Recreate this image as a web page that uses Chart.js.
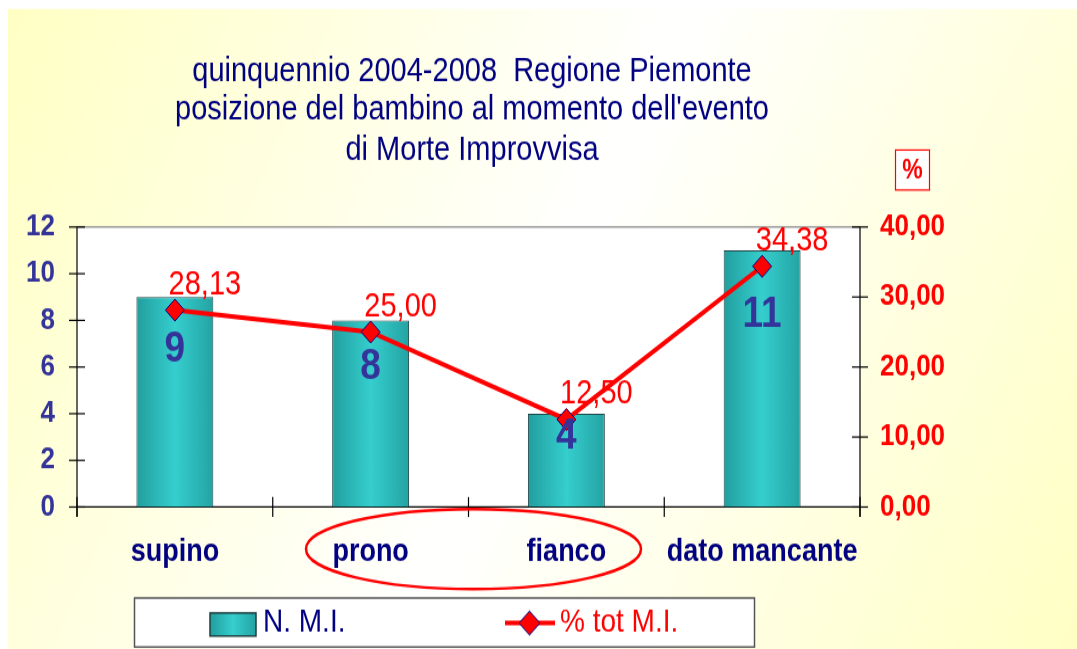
<!DOCTYPE html>
<html><head><meta charset="utf-8">
<script src="https://cdn.jsdelivr.net/npm/chart.js@4.4.1/dist/chart.umd.min.js"></script>
<style>
html,body{margin:0;padding:0;background:#fff;overflow:hidden;width:1077px;height:649px;}
#wrap{width:1077px;height:560px;transform:scaleY(1.158929);transform-origin:0 0;}
canvas{display:block;}
</style></head><body>
<div id="wrap"><canvas id="c" width="1077" height="560" style="width:1077px;height:560px"></canvas></div>
<script>
// ---- data ----
const categories = ['supino', 'prono', 'fianco', 'dato mancante'];
const countValues = [9, 8, 4, 11];
const percentValues = [28.13, 25.00, 12.50, 34.38];
const leftTickLabels = ['0', '2', '4', '6', '8', '10', '12'];
const rightTickLabels = ['0,00', '10,00', '20,00', '30,00', '40,00'];
const titleLines = ['quinquennio 2004-2008  Regione Piemonte', "posizione del bambino al momento dell'evento", 'di Morte Improvvisa'];
const seriesNames = ['N. M.I.', '% tot M.I.'];
const unitLabel = '%';

// ---- helpers ----
const S = 649 / 560;            // vertical stretch of the reference
const Y = v => v / S;           // reference y -> canvas y
const FONT = '"Liberation Sans", Arial, Helvetica, sans-serif';
const BAR_PCT = 0.393;

function tealGradient(c, x0, x1) {
  const g = c.createLinearGradient(x0, 0, x1, 0);
  g.addColorStop(0, '#229e9e');
  g.addColorStop(0.5, '#36cece');
  g.addColorStop(1, '#24a3a3');
  return g;
}
function barColor(ctx) {
  const chart = ctx.chart, xs = chart.scales.x;
  if (!xs || ctx.dataIndex === undefined || !chart.chartArea) return '#33CCCC';
  const cx = xs.getPixelForValue(ctx.dataIndex);
  const w = (xs.width / categories.length) * BAR_PCT;
  return tealGradient(chart.ctx, cx - w / 2, cx + w / 2);
}
function seg(c, x0, y0, x1, y1) { c.beginPath(); c.moveTo(x0, y0); c.lineTo(x1, y1); c.stroke(); }

const deco = {
  id: 'deco',
  beforeDraw(chart) {
    const c = chart.ctx, a = chart.chartArea;
    c.save();
    c.fillStyle = '#fff'; c.fillRect(0, 0, 1077, 560);
    const g = c.createLinearGradient(8, Y(9), 1077, 560);
    g.addColorStop(0, '#FFFFC4');
    g.addColorStop(0.5, '#FFFFFF');
    g.addColorStop(1, '#FFFFC4');
    c.fillStyle = g; c.fillRect(8, Y(9), 1077 - 8, 560 - Y(9));
    c.fillStyle = '#fff'; c.fillRect(a.left, a.top, a.right - a.left, a.bottom - a.top);
    c.restore();
  },
  beforeDatasetsDraw(chart) {
    const c = chart.ctx, a = chart.chartArea, ys = chart.scales.y, y1 = chart.scales.y1;
    c.save();
    c.lineWidth = 1.2;
    c.strokeStyle = '#8a8a8a'; seg(c, a.left, a.top, a.right, a.top);
    c.strokeStyle = '#000';
    seg(c, a.left, a.top, a.left, Y(517));
    seg(c, a.right, a.top, a.right, Y(517));
    seg(c, a.left, a.bottom, a.right, a.bottom);
    ys.ticks.forEach(t => { const p = ys.getPixelForValue(t.value); seg(c, a.left - 8, p, a.left + 8, p); });
    y1.ticks.forEach(t => { const p = y1.getPixelForValue(t.value); seg(c, a.right - 8, p, a.right + 8, p); });
    const n = categories.length;
    for (let i = 0; i <= n; i++) { const px = a.left + i * (a.right - a.left) / n; seg(c, px, Y(497), px, Y(517)); }
    c.restore();
  },
  afterDatasetsDraw(chart) {
    const c = chart.ctx, ys = chart.scales.y;
    c.save();
    c.textAlign = 'center'; c.textBaseline = 'middle';
    // bar value labels
    c.fillStyle = '#333399'; c.font = 'bold 37px ' + FONT;
    chart.getDatasetMeta(0).data.forEach((el, i) => {
      c.fillText(String(countValues[i]), el.x, ys.getPixelForValue(countValues[i] * 0.75));
    });
    // line value labels
    c.fillStyle = '#FF0000'; c.font = '29px ' + FONT;
    chart.getDatasetMeta(1).data.forEach((el, i) => {
      c.fillText(percentValues[i].toFixed(2).replace('.', ','), el.x + 30, el.y - Y(25));
    });
    c.restore();
  },
  afterDraw(chart) {
    const c = chart.ctx;
    c.save();
    // title
    c.fillStyle = '#000080'; c.font = '29px ' + FONT; c.textAlign = 'center'; c.textBaseline = 'middle';
    const ty = [72, 110, 151];
    titleLines.forEach((t, i) => c.fillText(t, 472, Y(ty[i])));
    // % box
    c.fillStyle = '#fff'; c.fillRect(895.5, Y(150), 34, Y(190) - Y(150));
    c.strokeStyle = '#FF0000'; c.lineWidth = 1.2; c.strokeRect(895.5, Y(150), 34, Y(190) - Y(150));
    c.fillStyle = '#FF0000'; c.font = 'bold 23px ' + FONT; c.fillText(unitLabel, 912.5, Y(171));
    // ellipse
    c.beginPath(); c.ellipse(473.5, Y(549), 167.5, 40 / S, 0, 0, Math.PI * 2);
    c.strokeStyle = '#FF0000'; c.lineWidth = 2.5; c.stroke();
    // legend box
    const top = Y(598), bot = Y(647);
    c.fillStyle = '#fff'; c.fillRect(134.5, top, 620, bot - top);
    c.strokeStyle = '#555'; c.lineWidth = 1.5; c.strokeRect(134.5, top, 620, bot - top);
    const ly = Y(623);
    c.fillStyle = tealGradient(c, 210, 256); c.fillRect(210, Y(613), 46, Y(636) - Y(613));
    c.strokeStyle = '#1f3f3f'; c.lineWidth = 1.5; c.strokeRect(210, Y(613), 46, Y(636) - Y(613));
    c.textAlign = 'left'; c.font = '28px ' + FONT;
    c.fillStyle = '#000080'; c.fillText(seriesNames[0], 263, ly);
    c.strokeStyle = '#FF0000'; c.lineWidth = 4; seg(c, 505, ly, 555, ly);
    const dh = 12 / S;
    c.beginPath(); c.moveTo(529.5 - 10.5, ly); c.lineTo(529.5, ly - dh); c.lineTo(529.5 + 10.5, ly); c.lineTo(529.5, ly + dh); c.closePath();
    c.fillStyle = '#FF0000'; c.fill(); c.strokeStyle = '#000080'; c.lineWidth = 1; c.stroke();
    c.fillStyle = '#FF0000'; c.fillText(seriesNames[1], 560, ly);
    c.restore();
  }
};

const noGrid = { display: false, drawTicks: false };
new Chart(document.getElementById('c'), {
  data: {
    labels: categories,
    datasets: [
      { type: 'bar', label: seriesNames[0], data: countValues, yAxisID: 'y', order: 1,
        backgroundColor: barColor, borderColor: '#1f4545', borderWidth: 1,
        barPercentage: BAR_PCT, categoryPercentage: 1 },
      { type: 'line', label: seriesNames[1], data: percentValues, yAxisID: 'y1', order: 0,
        borderColor: '#FF0000', borderWidth: 4, tension: 0, fill: false,
        pointStyle: 'rectRot', pointRadius: 9.5, pointBackgroundColor: '#FF0000',
        pointBorderColor: '#000080', pointBorderWidth: 1 }
    ]
  },
  options: {
    responsive: false, animation: false, devicePixelRatio: 1,
    layout: { padding: { top: Y(227), bottom: 560 - Y(507) - 60, left: 0, right: 0 } },
    plugins: { legend: { display: false }, tooltip: { enabled: false }, title: { display: false } },
    scales: {
      x: { grid: noGrid, border: { display: false },
        ticks: { color: '#000080', font: { family: FONT, size: 27, weight: 'bold' }, padding: 23, maxRotation: 0, autoSkip: false },
        afterFit(s) { s.height = 60; } },
      y: { position: 'left', min: 0, max: 12, grid: noGrid, border: { display: false },
        ticks: { stepSize: 2, color: '#333399', font: { family: FONT, size: 26, weight: 'bold' }, padding: 22,
          callback: (v, i) => leftTickLabels[i] },
        afterFit(s) { s.width = 77; } },
      y1: { position: 'right', min: 0, max: 40, grid: noGrid, border: { display: false },
        ticks: { stepSize: 10, color: '#FF0000', font: { family: FONT, size: 26, weight: 'bold' }, padding: 20,
          callback: (v, i) => rightTickLabels[i] },
        afterFit(s) { s.width = 217; } }
    }
  },
  plugins: [deco]
});
</script>
</body></html>
